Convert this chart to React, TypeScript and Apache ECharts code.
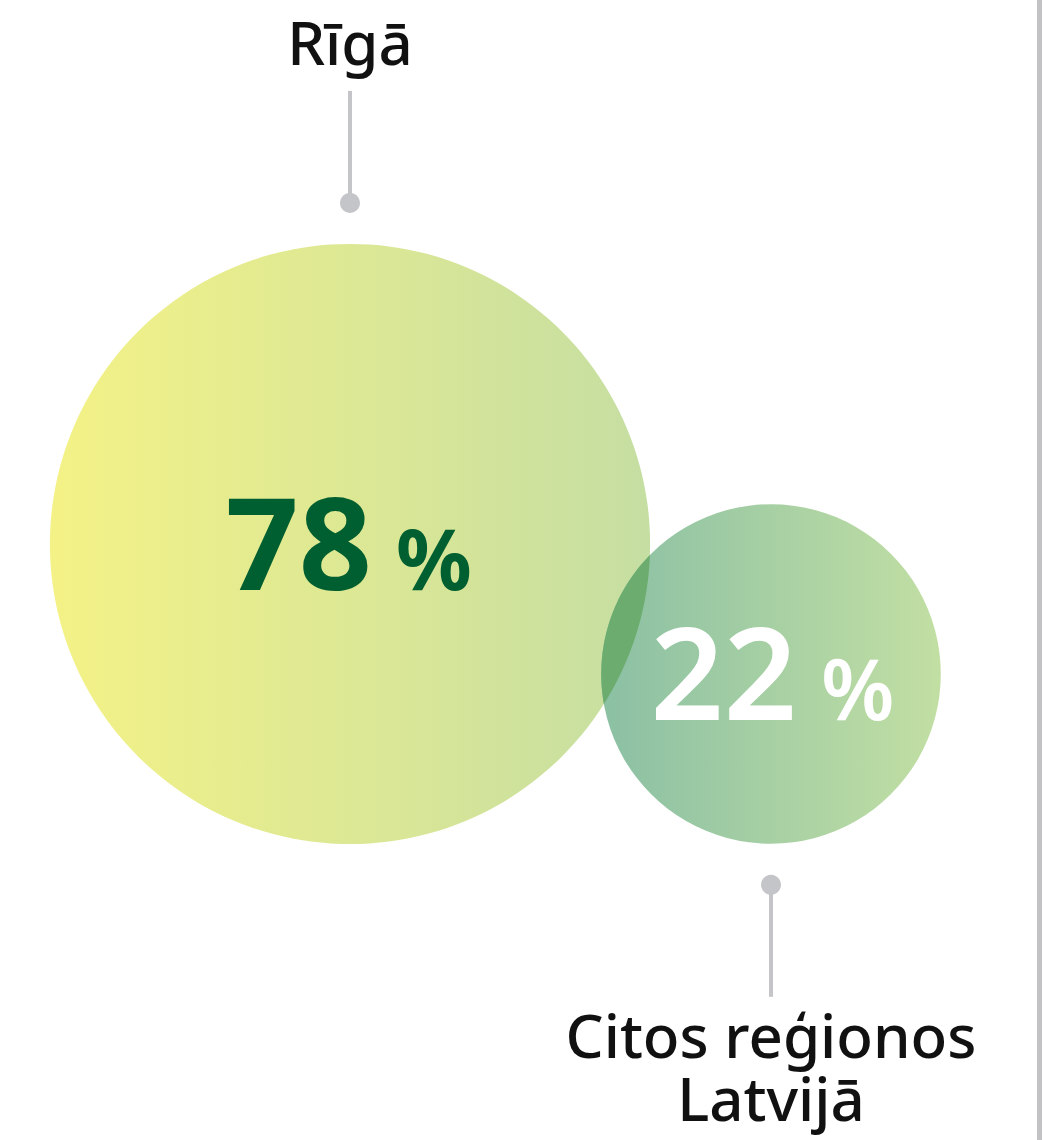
import { useEffect, useRef } from "react";
import * as echarts from "echarts";

// Share of respondents by location
const regions = ["Rīgā", "Citos reģionos Latvijā"];
const shares = [78, 22];
const regionLabelLines = [["Rīgā"], ["Citos reģionos", "Latvijā"]];

const W = 1046;
const H = 1140;
const FONT = "'Noto Sans', sans-serif";

// Bubble layout (centre points in page pixels)
const bubbleCentres = [
  [350, 544],
  [771, 674],
];
const bubbleStyles = [
  {
    from: "#f4f286",
    to: "#c5dea2",
    numColor: "#005f30",
    numWeight: 700,
    numRight: 22,
    pctLeft: 46,
  },
  {
    from: "#8bc0a4",
    to: "#c2dfa3",
    numColor: "#ffffff",
    numWeight: 600,
    numRight: 26,
    pctLeft: 50,
  },
];
// Labels sit above the first bubble and below the second
const labelSides = [-1, 1];

const GREY = "#c4c5c8";
const OVERLAP = "#6cad6f";

// Bubble diameter grows with the share
const diameterOf = (v: number) => 84.5 * Math.pow(v, 0.45);

// y for a 'middle' aligned text so that its baseline lands on `base`
const midForBaseline = (base: number, fs: number) => base - 0.388 * fs;

// Outline of the region shared by two circles, as polygon points
function lensPoints(
  a: number[],
  ra: number,
  b: number[],
  rb: number,
  steps = 48
): number[][] {
  const dx = b[0] - a[0];
  const dy = b[1] - a[1];
  const d = Math.hypot(dx, dy);
  if (d >= ra + rb || d <= Math.abs(ra - rb)) return [];
  const pts: number[][] = [];
  const arc = (c: number[], r: number, o: number[], ro: number) => {
    const th = Math.atan2(o[1] - c[1], o[0] - c[0]);
    const al = Math.acos((r * r + d * d - ro * ro) / (2 * r * d));
    for (let s = 0; s <= steps; s++) {
      const t = th - al + (2 * al * s) / steps;
      pts.push([c[0] + r * Math.cos(t), c[1] + r * Math.sin(t)]);
    }
  };
  arc(a, ra, b, rb);
  arc(b, rb, a, ra);
  return pts;
}

export default function App() {
  const ref = useRef<HTMLDivElement>(null);

  useEffect(() => {
    if (!ref.current) return;
    const chart = echarts.init(ref.current, undefined, { renderer: "svg" });

    const data = regions.map((name, i) => ({
      name,
      value: [bubbleCentres[i][0], bubbleCentres[i][1], shares[i]],
    }));

    chart.setOption({
      animation: false,
      backgroundColor: "#ffffff",
      grid: { left: 0, right: 0, top: 0, bottom: 0 },
      xAxis: { type: "value", min: 0, max: W, show: false },
      yAxis: { type: "value", min: 0, max: H, inverse: true, show: false },
      graphic: [
        {
          type: "rect",
          shape: { x: 1037, y: 0, width: 5, height: H },
          style: { fill: "#c2c2c4" },
          z: 1,
        },
      ],
      series: [
        {
          type: "custom",
          coordinateSystem: "cartesian2d",
          data,
          renderItem: (params: any, api: any) => {
            const i = params.dataIndex;
            const [cx, cy] = api.coord([api.value(0), api.value(1)]);
            const v = api.value(2) as number;
            const r = diameterOf(v) / 2;
            const st = bubbleStyles[i];
            const side = labelSides[i];

            const numFs = 128;
            const pctFs = 84;
            const base = cy + 46;

            const edgeY = cy + side * r;
            const dotY = edgeY + side * 41;
            const lineEnd = dotY + side * 112;
            const lines = regionLabelLines[i];
            const labelFs = 60;
            const lineGap = 63;

            const textChildren: any[] = lines.map((t, k) => {
              const capMid =
                side < 0
                  ? lineEnd - 47 - (lines.length - 1 - k) * lineGap
                  : lineEnd + 40 + k * lineGap;
              return {
                type: "text",
                x: cx,
                y: capMid - 0.031 * labelFs,
                style: {
                  text: t,
                  fontFamily: FONT,
                  fontSize: labelFs,
                  fontWeight: 500,
                  fill: "#111111",
                  align: "center",
                  verticalAlign: "middle",
                },
              };
            });

            // Where this bubble overlaps an earlier one, darken the shared part
            const overlaps: any[] = [];
            for (let j = 0; j < i; j++) {
              const oc = api.coord(bubbleCentres[j]);
              const orad = diameterOf(shares[j]) / 2;
              const pts = lensPoints(oc, orad, [cx, cy], r);
              if (pts.length) {
                overlaps.push({
                  type: "polygon",
                  shape: { points: pts },
                  style: { fill: OVERLAP },
                });
              }
            }

            return {
              type: "group",
              children: [
                {
                  type: "circle",
                  shape: { cx, cy, r },
                  style: {
                    fill: new echarts.graphic.LinearGradient(0, 0, 1, 0, [
                      { offset: 0, color: st.from },
                      { offset: 1, color: st.to },
                    ]),
                  },
                },
                ...overlaps,
                {
                  type: "text",
                  x: cx + st.numRight,
                  y: midForBaseline(base, numFs),
                  style: {
                    text: String(v),
                    fontFamily: FONT,
                    fontSize: numFs,
                    fontWeight: st.numWeight,
                    fill: st.numColor,
                    align: "right",
                    verticalAlign: "middle",
                  },
                },
                {
                  type: "text",
                  x: cx + st.pctLeft,
                  y: midForBaseline(base, pctFs),
                  style: {
                    text: "%",
                    fontFamily: FONT,
                    fontSize: pctFs,
                    fontWeight: st.numWeight,
                    fill: st.numColor,
                    align: "left",
                    verticalAlign: "middle",
                  },
                },
                {
                  type: "line",
                  shape: { x1: cx, y1: dotY, x2: cx, y2: lineEnd },
                  style: { stroke: GREY, lineWidth: 4 },
                },
                {
                  type: "circle",
                  shape: { cx, cy: dotY, r: 10 },
                  style: { fill: GREY },
                },
                ...textChildren,
              ],
            };
          },
        },
      ],
    });

    return () => chart.dispose();
  }, []);

  return (
    <div
      ref={ref}
      style={{ position: "absolute", left: 0, top: 0, width: W, height: H }}
    />
  );
}
